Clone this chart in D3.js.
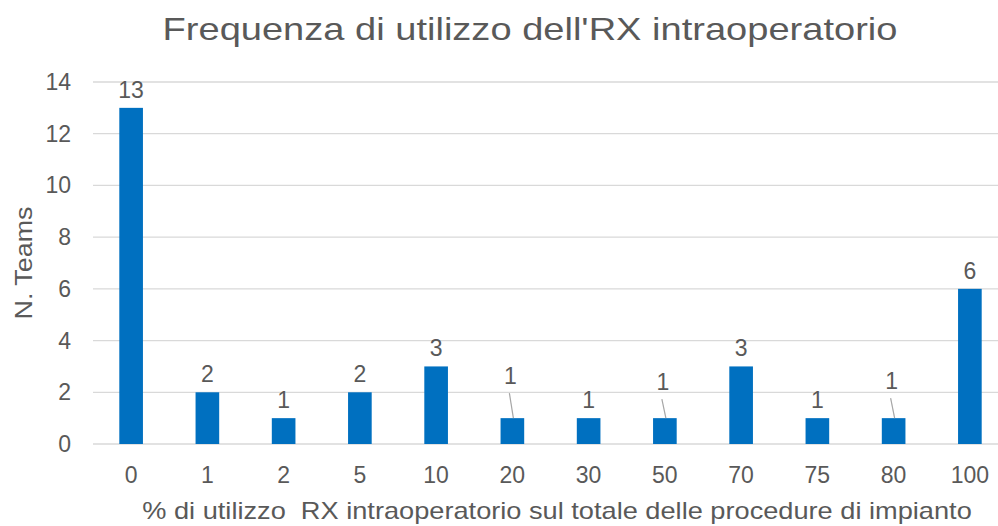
<!DOCTYPE html>
<html>
<head>
<meta charset="utf-8">
<script src="https://cdn.jsdelivr.net/npm/d3@7"></script>
<style>
  body { margin: 0; background: #fff; }
  text { font-family: "Liberation Sans", Arial, sans-serif; fill: #595959; }
</style>
</head>
<body>
<div id="chart"></div>
<script>
const categories = ['0', '1', '2', '5', '10', '20', '30', '50', '70', '75', '80', '100'];
const teams = [13, 2, 1, 2, 3, 1, 1, 1, 3, 1, 1, 6];
const yTicks = [0, 2, 4, 6, 8, 10, 12, 14];

const chartTitle = "Frequenza di utilizzo dell'RX intraoperatorio";
const xTitle = '% di utilizzo  RX intraoperatorio sul totale delle procedure di impianto';
const yTitle = 'N. Teams';

// labels pulled up with a leader line (px)
const leaderLift = { '20': 24, '50': 18, '80': 19 };

const width = 998, height = 526;
const margin = { left: 93, right: -10, top: 82, bottom: 82 };
const numSize = '23px';

const svg = d3.select('#chart').append('svg')
  .attr('width', width).attr('height', height);

const x = d3.scaleBand()
  .domain(categories)
  .range([margin.left, width - margin.right])
  .paddingInner(0.69)
  .paddingOuter(0.345);

const y = d3.scaleLinear()
  .domain([0, 14])
  .range([height - margin.bottom, margin.top]);

// grid
svg.append('g').selectAll('line')
  .data(yTicks)
  .join('line')
  .attr('x1', margin.left).attr('x2', width - margin.right)
  .attr('y1', d => y(d)).attr('y2', d => y(d))
  .attr('stroke', '#d9d9d9').attr('stroke-width', 1.3);

// y tick labels
svg.append('g').selectAll('text')
  .data(yTicks)
  .join('text')
  .attr('x', 71).attr('y', d => y(d))
  .attr('dy', '0.35em')
  .attr('text-anchor', 'end')
  .style('font-size', numSize)
  .text(d => d);

// bars
const data = categories.map((c, i) => ({ cat: c, v: teams[i] }));
svg.append('g').selectAll('rect')
  .data(data)
  .join('rect')
  .attr('x', d => x(d.cat))
  .attr('width', x.bandwidth())
  .attr('y', d => y(d.v))
  .attr('height', d => y(0) - y(d.v))
  .attr('fill', '#0070c0');

// data labels
const lab = svg.append('g');
data.forEach(d => {
  const cx = x(d.cat) + x.bandwidth() / 2;
  const lift = leaderLift[d.cat] || 0;
  const ly = y(d.v) - 10 - lift;
  if (lift) {
    lab.append('line')
      .attr('x1', cx - 3).attr('y1', ly + 9)
      .attr('x2', cx + 1).attr('y2', y(d.v))
      .attr('stroke', '#a6a6a6').attr('stroke-width', 1.2);
  }
  lab.append('text')
    .attr('x', cx - (lift ? 2 : 0)).attr('y', ly)
    .attr('text-anchor', 'middle')
    .style('font-size', numSize)
    .text(d.v);
});

// x tick labels
svg.append('g').selectAll('text')
  .data(categories)
  .join('text')
  .attr('x', d => x(d) + x.bandwidth() / 2)
  .attr('y', 483)
  .attr('text-anchor', 'middle')
  .style('font-size', numSize)
  .text(d => d);

// titles: reference type is a bit wider than the font, so stretch horizontally to its width
function fitted(str, size, cx, cy, target, rot) {
  const t = svg.append('text')
    .attr('text-anchor', 'middle')
    .style('font-size', size)
    .style('white-space', 'pre')
    .text(str);
  const k = target / t.node().getComputedTextLength();
  t.attr('transform', `translate(${cx},${cy})` + (rot ? ` rotate(${rot})` : '') + ` scale(${k},1)`);
}

fitted(chartTitle, '32px', 530, 40, 735);
fitted(xTitle, '23px', 557, 519, 830);
fitted(yTitle, '24px', 32, 263, 113, -90);
</script>
</body>
</html>
